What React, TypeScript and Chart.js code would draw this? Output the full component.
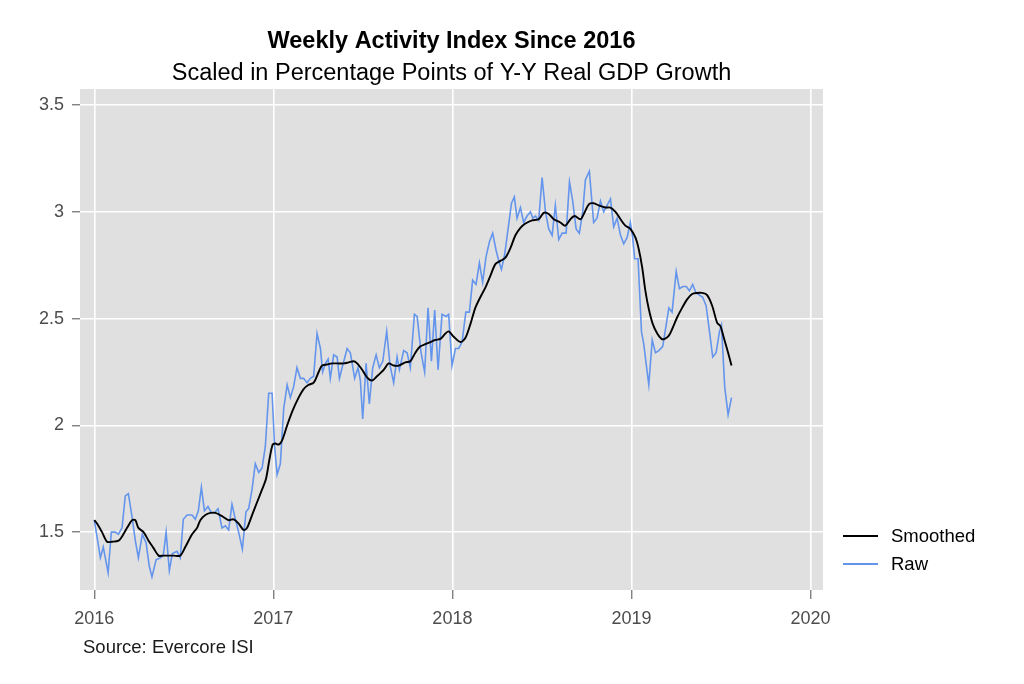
import { useEffect, useRef } from 'react';
import { Chart, registerables } from 'chart.js';
import type { Plugin } from 'chart.js';

Chart.register(...registerables);

const FONT = '"Liberation Sans", Arial, Helvetica, sans-serif';

const titleText = 'Weekly Activity Index Since 2016';
const subtitleText = 'Scaled in Percentage Points of Y-Y Real GDP Growth';
const sourceText = 'Source: Evercore ISI';

const xTicks = [2016, 2017, 2018, 2019, 2020];
const yTicks = [1.5, 2, 2.5, 3, 3.5];

// raw weekly readings (decimal year, index value)
const rawYears = [
  2016.0, 2016.034, 2016.05, 2016.077, 2016.095, 2016.117, 2016.134, 2016.155, 2016.173, 2016.19,
  2016.211, 2016.229, 2016.246, 2016.268, 2016.289, 2016.307, 2016.322, 2016.345, 2016.369, 2016.385,
  2016.401, 2016.419, 2016.436, 2016.462, 2016.48, 2016.497, 2016.518, 2016.546, 2016.564, 2016.581,
  2016.598, 2016.615, 2016.635, 2016.654, 2016.67, 2016.691, 2016.713, 2016.732, 2016.75, 2016.769,
  2016.788, 2016.806, 2016.827, 2016.847, 2016.862, 2016.881, 2016.899, 2016.918, 2016.937, 2016.955,
  2016.974, 2016.993, 2017.007, 2017.021, 2017.039, 2017.058, 2017.077, 2017.095, 2017.113, 2017.132,
  2017.151, 2017.169, 2017.188, 2017.207, 2017.225, 2017.244, 2017.263, 2017.275, 2017.291, 2017.306,
  2017.318, 2017.337, 2017.356, 2017.369, 2017.384, 2017.412, 2017.43, 2017.454, 2017.473, 2017.486,
  2017.499, 2017.518, 2017.536, 2017.555, 2017.574, 2017.592, 2017.611, 2017.633, 2017.652, 2017.672,
  2017.691, 2017.704, 2017.728, 2017.747, 2017.765, 2017.788, 2017.803, 2017.825, 2017.845, 2017.864,
  2017.883, 2017.901, 2017.92, 2017.942, 2017.965, 2017.979, 2017.998, 2018.017, 2018.035, 2018.054,
  2018.075, 2018.095, 2018.113, 2018.132, 2018.151, 2018.169, 2018.188, 2018.207, 2018.225, 2018.244,
  2018.259, 2018.274, 2018.292, 2018.311, 2018.33, 2018.346, 2018.361, 2018.38, 2018.398, 2018.417,
  2018.436, 2018.449, 2018.464, 2018.482, 2018.501, 2018.52, 2018.538, 2018.557, 2018.575, 2018.594,
  2018.613, 2018.635, 2018.654, 2018.672, 2018.691, 2018.709, 2018.728, 2018.743, 2018.765, 2018.789,
  2018.808, 2018.827, 2018.845, 2018.864, 2018.883, 2018.901, 2018.92, 2018.939, 2018.957, 2018.976,
  2018.994, 2019.007, 2019.018, 2019.037, 2019.056, 2019.069, 2019.082, 2019.097, 2019.116, 2019.134,
  2019.153, 2019.175, 2019.194, 2019.209, 2019.227, 2019.25, 2019.268, 2019.287, 2019.306, 2019.324,
  2019.342, 2019.361, 2019.38, 2019.398, 2019.417, 2019.436, 2019.454, 2019.473, 2019.492, 2019.503,
  2019.521, 2019.54, 2019.559
];

const rawValues = [
  1.556, 1.38, 1.43, 1.31, 1.5, 1.5, 1.49, 1.52, 1.67, 1.68,
  1.57, 1.46, 1.38, 1.49, 1.45, 1.34, 1.29, 1.37, 1.38, 1.39,
  1.5, 1.32, 1.4, 1.41, 1.38, 1.56, 1.58, 1.58, 1.56, 1.6,
  1.71, 1.6, 1.62, 1.59, 1.59, 1.61, 1.52, 1.53, 1.51, 1.63,
  1.56, 1.5, 1.42, 1.595, 1.61, 1.7, 1.82, 1.78, 1.8, 1.9,
  2.15, 2.15, 1.9, 1.77, 1.82, 2.08, 2.19, 2.13, 2.18, 2.27,
  2.22, 2.22, 2.2, 2.22, 2.23, 2.43, 2.36, 2.25, 2.29, 2.31,
  2.22, 2.33, 2.32, 2.22, 2.27, 2.36, 2.34, 2.22, 2.27, 2.21,
  2.03, 2.29, 2.1, 2.27, 2.33, 2.27, 2.3, 2.44, 2.28, 2.2,
  2.32, 2.26, 2.35, 2.34, 2.27, 2.52, 2.51, 2.34, 2.25, 2.55,
  2.3, 2.54, 2.26, 2.52, 2.51, 2.52, 2.28, 2.36, 2.36, 2.39,
  2.53, 2.53, 2.68, 2.66, 2.76, 2.67, 2.79, 2.86, 2.9, 2.82,
  2.77, 2.73, 2.8, 2.92, 3.04, 3.07, 2.97, 3.02, 2.95, 2.98,
  3.0, 2.97, 2.98, 2.96, 3.16, 3.0, 2.92, 2.89, 3.03, 2.87,
  2.9, 2.9, 3.14, 3.05, 2.92, 2.9, 3.0, 3.15, 3.19, 2.95,
  2.97, 3.05, 3.0, 3.03, 3.06, 2.93, 2.97, 2.89, 2.85, 2.88,
  2.95, 2.88, 2.78, 2.78, 2.44, 2.38, 2.29, 2.19, 2.4, 2.34,
  2.35, 2.37, 2.47, 2.55, 2.53, 2.72, 2.64, 2.65, 2.65, 2.63,
  2.66, 2.62, 2.61, 2.6, 2.56, 2.44, 2.32, 2.34, 2.44, 2.47,
  2.18, 2.05, 2.13
];

// smoothed trend readings (decimal year, index value)
const smoothYears = [
  2016.0, 2016.015, 2016.043, 2016.071, 2016.099, 2016.136, 2016.155, 2016.183, 2016.211, 2016.229,
  2016.246, 2016.275, 2016.303, 2016.331, 2016.359, 2016.387, 2016.415, 2016.443, 2016.48, 2016.508,
  2016.546, 2016.574, 2016.592, 2016.62, 2016.648, 2016.676, 2016.713, 2016.75, 2016.778, 2016.806,
  2016.834, 2016.853, 2016.881, 2016.909, 2016.937, 2016.959, 2016.978, 2016.996, 2017.011, 2017.03,
  2017.049, 2017.077, 2017.108, 2017.141, 2017.169, 2017.197, 2017.225, 2017.253, 2017.272, 2017.3,
  2017.328, 2017.356, 2017.393, 2017.421, 2017.449, 2017.468, 2017.496, 2017.523, 2017.551, 2017.579,
  2017.616, 2017.644, 2017.672, 2017.7, 2017.737, 2017.765, 2017.793, 2017.821, 2017.849, 2017.877,
  2017.905, 2017.933, 2017.961, 2017.979, 2018.007, 2018.045, 2018.073, 2018.101, 2018.128, 2018.156,
  2018.184, 2018.212, 2018.24, 2018.268, 2018.296, 2018.324, 2018.352, 2018.38, 2018.408, 2018.445,
  2018.482, 2018.51, 2018.538, 2018.566, 2018.603, 2018.631, 2018.659, 2018.683, 2018.715, 2018.734,
  2018.762, 2018.789, 2018.817, 2018.855, 2018.883, 2018.911, 2018.939, 2018.966, 2018.994, 2019.022,
  2019.041, 2019.06, 2019.078, 2019.097, 2019.119, 2019.144, 2019.168, 2019.186, 2019.209, 2019.227,
  2019.255, 2019.283, 2019.311, 2019.339, 2019.367, 2019.395, 2019.423, 2019.451, 2019.479, 2019.497,
  2019.516, 2019.54, 2019.559
];

const smoothValues = [
  1.556, 1.54, 1.5, 1.455, 1.455, 1.46, 1.48, 1.52, 1.556, 1.556,
  1.52, 1.5, 1.46, 1.425, 1.39, 1.39, 1.39, 1.39, 1.39, 1.43,
  1.49, 1.52, 1.556, 1.58, 1.59, 1.59, 1.575, 1.556, 1.56, 1.54,
  1.51, 1.52, 1.58, 1.64, 1.7, 1.75, 1.84, 1.91, 1.915, 1.91,
  1.93, 2.0, 2.07, 2.13, 2.17, 2.19, 2.2, 2.25, 2.28, 2.285,
  2.29, 2.29, 2.29, 2.295, 2.3, 2.29, 2.26, 2.225, 2.21, 2.23,
  2.26, 2.29, 2.28, 2.28, 2.295, 2.3, 2.34, 2.37, 2.38, 2.39,
  2.4, 2.405, 2.43, 2.44, 2.415, 2.39, 2.41, 2.475, 2.55, 2.6,
  2.645, 2.7, 2.755, 2.77, 2.785, 2.83, 2.89, 2.925, 2.945, 2.96,
  2.965, 2.995, 2.99, 2.965, 2.95, 2.935, 2.965, 2.98, 2.965, 2.99,
  3.035, 3.04, 3.03, 3.02, 3.02, 3.0, 2.965, 2.935, 2.92, 2.88,
  2.825, 2.74, 2.63, 2.545, 2.475, 2.43, 2.405, 2.405, 2.42, 2.45,
  2.505, 2.55, 2.59, 2.615, 2.62, 2.62, 2.61, 2.56, 2.48, 2.465,
  2.41, 2.34, 2.28
];

const seriesNames = ['Smoothed', 'Raw'];
const seriesColors = ['#000000', '#6495ED'];

const panelPlugin: Plugin<'line'> = {
  id: 'panel',
  beforeDraw(chart) {
    const { ctx, chartArea } = chart;
    ctx.save();
    ctx.fillStyle = '#ffffff';
    ctx.fillRect(0, 0, chart.width, chart.height);
    ctx.fillStyle = '#e0e0e0';
    ctx.fillRect(chartArea.left, chartArea.top, chartArea.right - chartArea.left, chartArea.bottom - chartArea.top);
    ctx.restore();
  },
  afterDraw(chart) {
    const { ctx, chartArea } = chart;
    const cx = (chartArea.left + chartArea.right) / 2;
    ctx.save();
    ctx.textBaseline = 'alphabetic';
    ctx.textAlign = 'center';
    ctx.fillStyle = '#000000';
    ctx.font = `bold 23.5px ${FONT}`;
    ctx.fillText(titleText, cx, 48);
    ctx.font = `23.5px ${FONT}`;
    ctx.fillText(subtitleText, cx, 80);

    ctx.textAlign = 'left';
    ctx.fillStyle = '#1a1a1a';
    ctx.font = `18.5px ${FONT}`;
    ctx.fillText(sourceText, 83, 653);

    // legend
    const legendY = [536, 564];
    seriesNames.forEach((name, i) => {
      ctx.strokeStyle = seriesColors[i];
      ctx.lineWidth = 1.8;
      ctx.beginPath();
      ctx.moveTo(843, legendY[i]);
      ctx.lineTo(878, legendY[i]);
      ctx.stroke();
      ctx.fillStyle = '#000000';
      ctx.textBaseline = 'middle';
      ctx.fillText(name, 891, legendY[i] + 1);
    });
    ctx.restore();
  }
};

export default function App() {
  const canvasRef = useRef<HTMLCanvasElement | null>(null);

  useEffect(() => {
    document.body.style.margin = '0';
    if (!canvasRef.current) return;

    const chart = new Chart(canvasRef.current, {
      type: 'line',
      data: {
        datasets: [
          {
            label: seriesNames[0],
            data: smoothYears.map((x, i) => ({ x, y: smoothValues[i] })),
            borderColor: seriesColors[0],
            borderWidth: 1.9,
            pointRadius: 0,
            tension: 0.3,
            fill: false
          },
          {
            label: seriesNames[1],
            data: rawYears.map((x, i) => ({ x, y: rawValues[i] })),
            borderColor: seriesColors[1],
            borderWidth: 1.6,
            pointRadius: 0,
            tension: 0,
            fill: false
          }
        ]
      },
      options: {
        animation: false,
        responsive: false,
        maintainAspectRatio: false,
        layout: { padding: { top: 89, right: 201, left: 0, bottom: 0 } },
        plugins: {
          legend: { display: false },
          title: { display: false },
          tooltip: { enabled: false }
        },
        scales: {
          x: {
            type: 'linear',
            min: 2015.92,
            max: 2020.07,
            afterBuildTicks: (scale) => {
              scale.ticks = xTicks.map((value) => ({ value }));
            },
            afterFit: (scale) => {
              scale.height = 94;
            },
            border: { display: false },
            grid: {
              color: '#ffffff',
              lineWidth: 1.6,
              tickColor: '#4d4d4d',
              tickLength: 9,
              tickWidth: 1
            },
            ticks: {
              color: '#4d4d4d',
              font: { family: FONT, size: 18 },
              padding: 9,
              maxRotation: 0,
              autoSkip: false,
              callback: (value) => String(value)
            }
          },
          y: {
            type: 'linear',
            min: 1.229,
            max: 3.575,
            afterBuildTicks: (scale) => {
              scale.ticks = yTicks.map((value) => ({ value }));
            },
            afterFit: (scale) => {
              scale.width = 80;
            },
            border: { display: false },
            grid: {
              color: '#ffffff',
              lineWidth: 1.6,
              tickColor: '#4d4d4d',
              tickLength: 8,
              tickWidth: 1
            },
            ticks: {
              color: '#4d4d4d',
              font: { family: FONT, size: 18 },
              padding: 8,
              autoSkip: false,
              callback: (value) => String(value)
            }
          }
        }
      },
      plugins: [panelPlugin]
    });

    return () => {
      chart.destroy();
    };
  }, []);

  return (
    <div style={{ width: 1024, height: 684, position: 'relative' }}>
      <canvas ref={canvasRef} width={1024} height={684} style={{ width: 1024, height: 684, display: 'block' }} />
    </div>
  );
}
